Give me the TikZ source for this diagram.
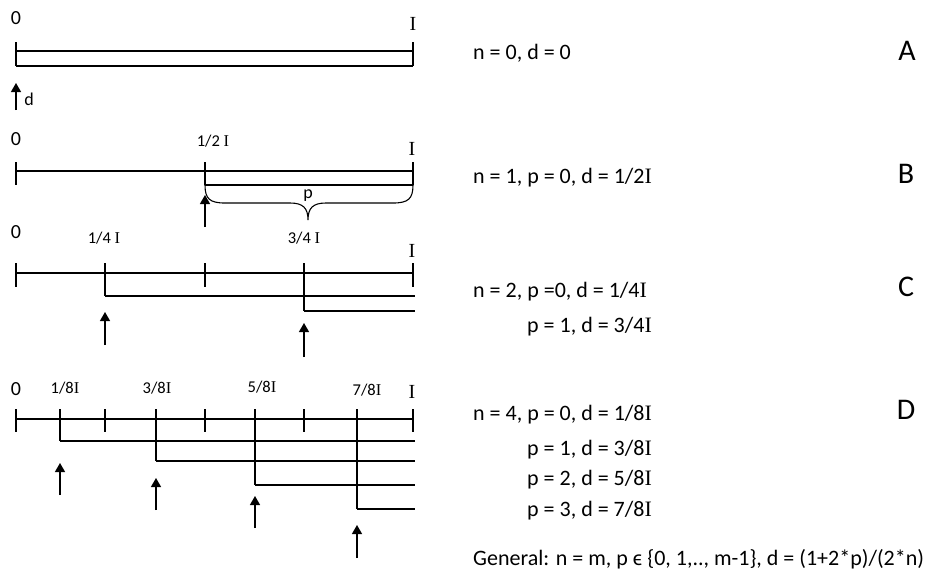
\documentclass[tikz,border=0pt]{standalone}
\usepackage{fontspec}
\setmainfont{Carlito}
\newfontfamily\serI{Liberation Serif}
\usetikzlibrary{arrows.meta}
\newcommand\Ival{{\serI I}}
\begin{document}
\begin{tikzpicture}[x=1pt,y=-1pt,
  axis/.style={line width=2.4pt},
  tickmark/.style={line width=2.2pt},
  sub/.style={line width=1.4pt},
  bracel/.style={line width=1.1pt},
  ptr/.style={line width=1.3pt,-{Triangle[width=10pt,length=9pt]}},
  endlbl/.style={font=\fontsize{20}{22}\selectfont, anchor=base, inner sep=0pt},
  fraclbl/.style={font=\fontsize{16.5}{18}\selectfont, anchor=base, inner sep=0pt},
  eqn/.style={font=\fontsize{22}{25}\selectfont, anchor=base west, inner sep=0pt},
  tagl/.style={font=\fontsize{30}{34}\selectfont, anchor=base, inner sep=0pt}]
\useasboundingbox (0,0) rectangle (930,573);

% ---------------- A ----------------
\draw[axis] (16,51) -- (413,51);
\draw[sub] (16,66) -- (413,66);
\foreach \x in {16,413} \draw[tickmark] (\x,42) -- (\x,66);
\node[endlbl] (a0) at (16,24) {0};
\node[endlbl] (aI) at (413,30) {\Ival};
\coordinate (aS) at (16,110);
\coordinate (aE) at (16,83);
\draw[ptr] (aS) -- (aE);
\node[endlbl, font=\fontsize{18}{20}\selectfont] (ad) at (29,105) {d};

% ---------------- B ----------------
\draw[axis] (16,171) -- (413,171);
\foreach \x in {16,205,413} \draw[tickmark] (\x,162) -- (\x,185);
\draw[sub] (205,185) -- (413,185);
\draw[bracel] (205,185) .. controls (205,199) and (210,203) .. (225,203) -- (290,203)
  .. controls (303,203) and (308,208) .. (308,220)
  .. controls (308,208) and (313,203) .. (326,203) -- (393,203)
  .. controls (408,203) and (413,199) .. (413,185);
\node[endlbl] (b0) at (16,145) {0};
\node[fraclbl] (bh) at (213,146) {1/2 \Ival};
\node[endlbl] (bI) at (412,155) {\Ival};
\node[endlbl, font=\fontsize{18}{20}\selectfont] (bp) at (308,198) {p};
\coordinate (bS) at (205,227);
\coordinate (bE) at (205,195);
\draw[ptr] (bS) -- (bE);

% ---------------- C ----------------
\draw[axis] (16,273) -- (413,273);
\foreach \x in {16,105,205,304,413} \draw[tickmark] (\x,263) -- (\x,287);
\draw[tickmark] (105,273) -- (105,296);
\draw[sub] (105,296) -- (415,296);
\draw[tickmark] (304,273) -- (304,311);
\draw[sub] (304,311) -- (415,311);
\node[endlbl] (c0) at (16,238) {0};
\node[fraclbl] (cq1) at (104,243) {1/4 \Ival};
\node[fraclbl] (cq3) at (304,243) {3/4 \Ival};
\node[endlbl] (cI) at (412,257) {\Ival};
\coordinate (cS1) at (105,345);
\coordinate (cE1) at (105,312);
\draw[ptr] (cS1) -- (cE1);
\coordinate (cS2) at (304,357);
\coordinate (cE2) at (304,323);
\draw[ptr] (cS2) -- (cE2);

% ---------------- D ----------------
\draw[axis] (16,419) -- (413,419);
\foreach \x in {16,60,105,156,205,255,304,357,413} \draw[tickmark] (\x,409) -- (\x,432);
\foreach \x/\y in {60/441,156/461,255/485,357/509}{
  \draw[tickmark] (\x,419) -- (\x,\y);
  \draw[sub] (\x,\y) -- (415,\y);
}
\node[endlbl] (d0) at (16,395) {0};
\node[fraclbl] (d1) at (65,393) {1/8\Ival};
\node[fraclbl] (d3) at (157,393) {3/8\Ival};
\node[fraclbl] (d5) at (262,392) {5/8\Ival};
\node[fraclbl] (d7) at (367,395) {7/8\Ival};
\node[endlbl] (dI) at (412,398) {\Ival};
\coordinate (dS1) at (60,495);  \coordinate (dE1) at (60,463);
\coordinate (dS2) at (156,510); \coordinate (dE2) at (156,478);
\coordinate (dS3) at (255,528); \coordinate (dE3) at (255,496);
\coordinate (dS4) at (357,558); \coordinate (dE4) at (357,525);
\draw[ptr] (dS1) -- (dE1);
\draw[ptr] (dS2) -- (dE2);
\draw[ptr] (dS3) -- (dE3);
\draw[ptr] (dS4) -- (dE4);

% ---------------- right side ----------------
\node[eqn] (eA) at (473,59) {n = 0, d = 0};
\node[tagl] (tA) at (907,60) {A};
\node[eqn] (eB) at (473,183) {n = 1, p = 0, d = 1/2\Ival};
\node[tagl] (tB) at (906,183) {B};
\node[eqn] (eC1) at (473,297) {n = 2, p =0, d = 1/4\Ival};
\node[eqn] (eC2) at (527,332) {p = 1, d = 3/4\Ival};
\node[tagl] (tC) at (906,296) {C};
\node[eqn] (eD1) at (473,420) {n = 4, p = 0, d = 1/8\Ival};
\node[eqn] (eD2) at (527,455) {p = 1, d = 3/8\Ival};
\node[eqn] (eD3) at (527,485) {p = 2, d = 5/8\Ival};
\node[eqn] (eD4) at (527,516) {p = 3, d = 7/8\Ival};
\node[tagl] (tD) at (906,419) {D};
\node[eqn] (eG) at (473,565) {General: n = m, p \char"03F5\ \{0, 1,.., m-1\}, d = (1+2*p)/(2*n)};
\end{tikzpicture}
\end{document}
